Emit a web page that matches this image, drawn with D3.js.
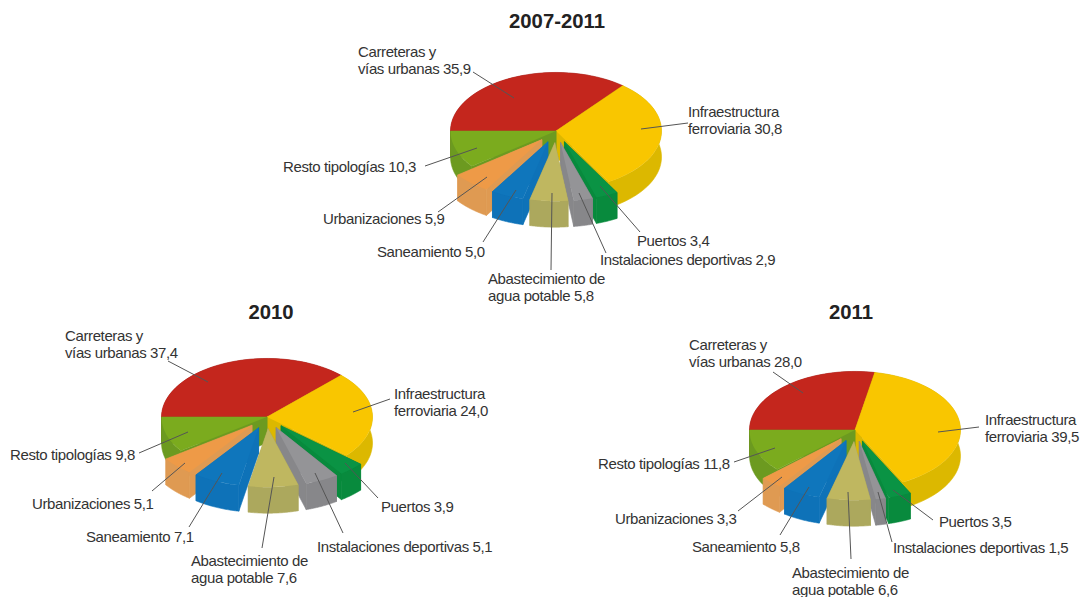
<!DOCTYPE html>
<html>
<head>
<meta charset="utf-8">
<script src="https://cdn.jsdelivr.net/npm/d3@7"></script>
<style>
  html, body { margin: 0; padding: 0; background: #fff; }
  text { font-family: "Liberation Sans", Arial, sans-serif; fill: #333; }
</style>
</head>
<body>
<div id="chart"></div>
<script>
// Slice order, clockwise from 9 o'clock
var categories = ["Carreteras y vías urbanas", "Infraestructura ferroviaria", "Puertos", "Instalaciones deportivas",
                  "Abastecimiento de agua potable", "Saneamiento", "Urbanizaciones", "Resto tipologías"];
var values2007 = [35.9, 30.8, 3.4, 2.9, 5.8, 5.0, 5.9, 10.3];
var values2010 = [37.4, 24.0, 3.9, 5.1, 7.6, 7.1, 5.1, 9.8];
var values2011 = [28.0, 39.5, 3.5, 1.5, 6.6, 5.8, 3.3, 11.8];
var titles = ["2007-2011", "2010", "2011"];

var topColors  = ["#c4261d", "#f9c600", "#0a9344", "#949497", "#bfb760", "#0f76bc", "#ee9a47", "#7bab1e"];
var sideColors = ["#a8201a", "#dcb800", "#088a3d", "#87878a", "#aca85d", "#0e72b8", "#df9a52", "#6c9a20"];
var pulledOut  = [false, false, true, true, true, true, true, false];

var fmt = function(v){ return v.toFixed(1).replace(".", ","); };

// label lines: text before the value, then the last line gets the value appended
var labelLines = [["Carreteras y", "vías urbanas"], ["Infraestructura", "ferroviaria"], ["Puertos"], ["Instalaciones deportivas"],
                  ["Abastecimiento de", "agua potable"], ["Saneamiento"], ["Urbanizaciones"], ["Resto tipologías"]];

// layout of each pie: centre, title, label anchor [x, first baseline] and leader [x1,y1,x2,y2]
var pieLayouts = [
  {values: values2007, cx: 556, cy: 131, titleX: 557, titleY: 28,
   labels: [[358,57],[688,117],[637,246],[600,265],[488,284],[377,257],[323,224],[283,172]],
   leaders: [[473,72,514,98],[688,123,641,129],[640,232,600,186],[606,253,579,193],[551,270,552,193],[483,242,516,190],[438,212,487,177],[425,166,477,148]]},
  {values: values2010, cx: 267, cy: 417, titleX: 271, titleY: 319,
   labels: [[65,341],[394,399],[381,512],[317,552],[191,566],[86,542],[32,509],[10,460]],
   leaders: [[168,361,208,382],[390,399,353,412],[378,498,345,463],[343,533,315,473],[262,548,274,477],[189,527,222,473],[152,491,185,463],[139,453,188,432]]},
  {values: values2011, cx: 855, cy: 430, titleX: 851, titleY: 319,
   labels: [[689,350],[985,425],[939,527],[893,553],[792,578],[692,552],[615,524],[598,469]],
   leaders: [[773,372,803,393],[979,427,938,432],[933,520,893,490],[892,542,878,492],[851,559,848,492],[780,535,809,487],[738,511,782,477],[734,462,775,448]]}
];

var radius = 105.5, squash = 0.555, depth = 26, pullOut = 21, lineGap = 16.5;

var svg = d3.select("#chart").append("svg")
    .attr("width", 1084)
    .attr("height", 597);

var pie = d3.pie().sort(null).startAngle(-Math.PI / 2).endAngle(1.5 * Math.PI);
var arc = d3.arc().innerRadius(0).outerRadius(radius);
var wall = d3.line();

function drawPie(layout){
    var g = svg.append("g");
    var slices = pie(layout.values);

    slices.forEach(function(d, i){
        var mid = (d.startAngle + d.endAngle) / 2;
        var off = pulledOut[i] ? pullOut : 0;
        d.index2 = i;
        d.ox = layout.cx + off * Math.sin(mid);
        d.oy = layout.cy - off * Math.cos(mid) * squash;
        d.front = -Math.cos(mid) * (pulledOut[i] ? 1 : -1);
    });

    // painter's order: big flat slices at the back, pulled out ones nearest the bottom last
    var order = slices.slice().sort(function(a, b){
        var pa = pulledOut[a.index2] ? 1 : 0, pb = pulledOut[b.index2] ? 1 : 0;
        if(pa !== pb) return pa - pb;
        if(!pa) return a.index2 === 7 ? 1 : (b.index2 === 7 ? -1 : a.index2 - b.index2);
        return a.front - b.front;
    });

    order.forEach(function(d){
        var i = d.index2;
        var px = function(a, r){ return [d.ox + r * Math.sin(a), d.oy - r * Math.cos(a) * squash]; };
        var rim = d3.range(0, 41).map(function(k){ return d.startAngle + (d.endAngle - d.startAngle) * k / 40; });
        var slice = g.append("g");

        // the two cut faces
        [d.startAngle, d.endAngle].forEach(function(a){
            var p0 = px(a, 0), p1 = px(a, radius);
            slice.append("path")
                .attr("d", wall([p0, p1, [p1[0], p1[1] + depth], [p0[0], p0[1] + depth]]) + "Z")
                .attr("fill", sideColors[i])
                .attr("stroke", sideColors[i])
                .attr("stroke-width", 0.6);
        });

        // outer rim
        var top = rim.map(function(a){ return px(a, radius); });
        var bottom = top.map(function(p){ return [p[0], p[1] + depth]; }).reverse();
        slice.append("path")
            .attr("d", wall(top.concat(bottom)) + "Z")
            .attr("fill", sideColors[i])
            .attr("stroke", sideColors[i])
            .attr("stroke-width", 0.6);

        // top face
        slice.append("path")
            .attr("d", arc(d))
            .attr("transform", "translate(" + d.ox + "," + d.oy + ") scale(1," + squash + ")")
            .attr("fill", topColors[i]);
    });

    // leaders
    g.selectAll("line.leader")
        .data(layout.leaders)
        .enter().append("line")
        .attr("class", "leader")
        .attr("x1", function(d){ return d[0]; })
        .attr("y1", function(d){ return d[1]; })
        .attr("x2", function(d){ return d[2]; })
        .attr("y2", function(d){ return d[3]; })
        .style("stroke", "#555")
        .style("stroke-width", 1);

    // labels
    labelLines.forEach(function(lines, i){
        var t = g.append("text")
            .attr("x", layout.labels[i][0])
            .attr("y", layout.labels[i][1])
            .style("font-size", "15px")
            .style("letter-spacing", "-0.38px");
        lines.forEach(function(line, k){
            var last = k === lines.length - 1;
            t.append("tspan")
                .attr("x", layout.labels[i][0])
                .attr("dy", k === 0 ? 0 : lineGap)
                .text(last ? line + " " + fmt(layout.values[i]) : line);
        });
    });

    return g;
}

pieLayouts.forEach(function(layout, n){
    drawPie(layout);
    svg.append("text")
        .attr("x", layout.titleX)
        .attr("y", layout.titleY)
        .attr("text-anchor", "middle")
        .style("font-size", "20.3px")
        .style("font-weight", "bold")
        .style("fill", "#222")
        .text(titles[n]);
});
</script>
</body>
</html>
